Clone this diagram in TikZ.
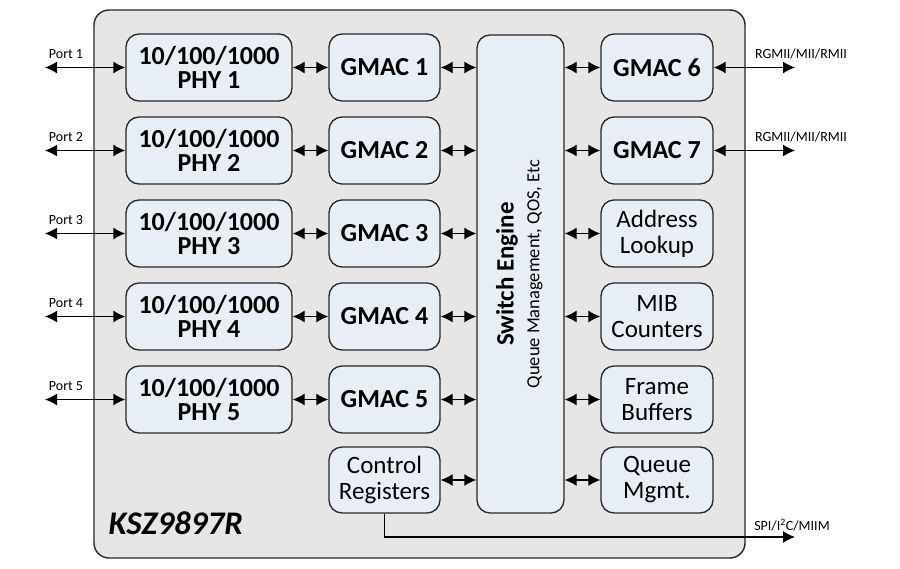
\documentclass[tikz,border=0pt]{standalone}
\usepackage{fontspec}
\setmainfont{Carlito}
\usetikzlibrary{arrows.meta,positioning}

\definecolor{chipgray}{HTML}{E6E6E6}
\definecolor{blockfill}{HTML}{E8EEF6}

\begin{document}
\begin{tikzpicture}[x=1pt,y=-1pt,
  chip/.style={draw=black!85,line width=1.4pt,rounded corners=15pt,fill=chipgray},
  blk/.style={draw=black!85,line width=1.3pt,rounded corners=13pt,fill=blockfill,align=center,inner sep=0pt},
  bigblk/.style={blk,font=\fontsize{26}{24}\selectfont\bfseries},
  txtblk/.style={blk,font=\fontsize{25}{26}\selectfont},
  link/.style={{Latex[length=12pt,width=12pt]}-{Latex[length=12pt,width=12pt]},line width=1.3pt},
  oneway/.style={-{Latex[length=12pt,width=12pt]},line width=1.3pt},
  pinlbl/.style={font=\fontsize{14}{14}\selectfont}]
\useasboundingbox (0,0) rectangle (900,568);
\draw[chip] (94,10) rectangle (745,558);
% switch engine
\node[blk,minimum width=87pt,minimum height=478pt] (sw) at (520.5,274) {};
\node[rotate=90,font=\fontsize{25}{25}\selectfont\bfseries] (swt) at (507,274) {Switch Engine};
\node[rotate=90,font=\fontsize{18.5}{18.5}\selectfont] (sws) at (535,274) {Queue Management, QOS, Etc};
% phy / gmac rows
\foreach \i/\y in {1/67.5,2/150.5,3/233.5,4/316.5,5/399.5}{
  \node[bigblk,minimum width=166pt,minimum height=67pt] (phy\i) at (209,\y) {10/100/1000\\PHY \i};
  \node[bigblk,minimum width=111pt,minimum height=67pt] (mac\i) at (384.5,\y) {GMAC \i};
  \coordinate (pe\i) at (45,\y);
  \node[pinlbl] (pl\i) at (66,\y-13.5) {Port \i};
  \draw[link] (pe\i) -- (phy\i.west);
  \draw[link] (phy\i.east) -- (mac\i.west);
  \draw[link] (mac\i.east) -- (mac\i.east -| sw.west);
}
\node[txtblk,minimum width=111pt,minimum height=66pt] (ctl) at (384.5,480) {Control\\Registers};
\draw[link] (ctl.east) -- (ctl.east -| sw.west);
% right column
\node[bigblk,minimum width=112pt,minimum height=67pt] (mac6) at (657,67.5) {GMAC 6};
\node[bigblk,minimum width=112pt,minimum height=67pt] (mac7) at (657,150.5) {GMAC 7};
\node[txtblk,minimum width=112pt,minimum height=67pt] (alu) at (657,233.5) {Address\\Lookup};
\node[txtblk,minimum width=112pt,minimum height=67pt] (mib) at (657,316.5) {MIB\\Counters};
\node[txtblk,minimum width=112pt,minimum height=67pt] (fbuf) at (657,399.5) {Frame\\Buffers};
\node[txtblk,minimum width=112pt,minimum height=66pt] (qm) at (657,480) {Queue\\Mgmt.};
\foreach \n in {mac6,mac7,alu,mib,fbuf,qm}
  \draw[link] (\n.west -| sw.east) -- (\n.west);
\foreach \n in {6,7}{
  \coordinate (re\n) at (795,0 |- mac\n.east);
  \node[pinlbl] (rl\n) at (801,0 |- mac\n.east) [yshift=13.5pt] {RGMII/MII/RMII};
  \draw[link] (mac\n.east) -- (re\n);
}
% management interface
\coordinate (spi) at (795,537);
\node[pinlbl] (spil) at (792,525) {SPI/I\textsuperscript{2}C/MIIM};
\draw[oneway] (ctl.south) |- (spi);
\node[anchor=west,font=\fontsize{33}{33}\selectfont\bfseries\itshape] (chipname) at (105,523) {KSZ9897R};
\end{tikzpicture}
\end{document}
